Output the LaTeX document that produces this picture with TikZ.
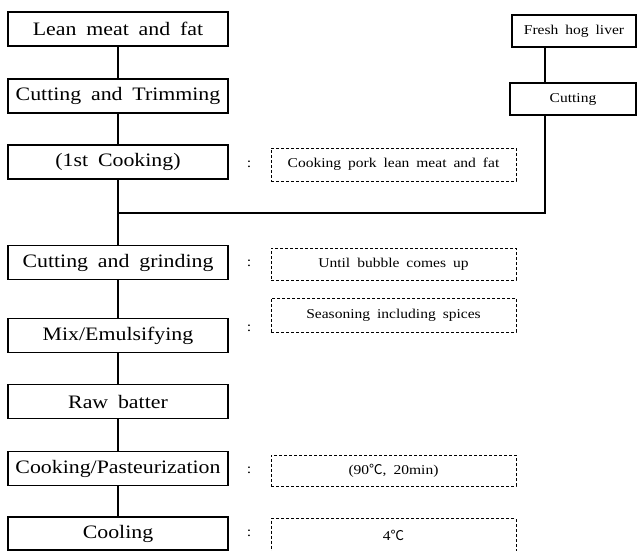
\documentclass[tikz,border=0pt]{standalone}
\usepackage{fontspec}
\setmainfont[FakeStretch=1.15,WordSpace=1.8]{Liberation Serif}
\newfontfamily\cjk{Noto Sans CJK SC}
\newcommand{\degc}{{\cjk ℃}}

\begin{document}
\begin{tikzpicture}[x=1pt,y=-1pt]
	\tikzstyle{stage} = [draw=black, line width=1.6pt, fill=white, minimum width=220pt, minimum height=34pt, inner sep=0pt, font=\fontsize{19}{21}\selectfont];
	\tikzstyle{liverbox} = [draw=black, line width=1.4pt, fill=white, minimum height=32pt, inner sep=0pt, font=\fontsize{13.5}{15}\selectfont];
	\tikzstyle{note} = [draw=black, line width=0.6pt, dash pattern=on 3pt off 2pt, minimum width=245pt, minimum height=32pt, inner sep=0pt, font=\fontsize{13.5}{15}\selectfont];
	\tikzstyle{colon} = [inner sep=0pt, font=\fontsize{14}{16}\selectfont];
	\tikzstyle{link} = [line width=1.6pt];

	\useasboundingbox (0,0) rectangle (638,551);

	% main line
	\node[stage] at (118, 29) (lean) {Lean meat and fat};
	\node[stage] at (118, 96) (trim) {Cutting and Trimming};
	\node[stage] at (118, 162) (cook1) {(1st Cooking)};
	\node[stage] at (118, 262.5) (grind) {Cutting and grinding};
	\node[stage] at (118, 335.5) (mix) {Mix/Emulsifying};
	\node[stage] at (118, 401.5) (raw) {Raw batter};
	\node[stage] at (118, 468.5) (past) {Cooking/Pasteurization};
	\node[stage, minimum height=33pt] at (118, 533.5) (cool) {Cooling};

	% liver
	\node[liverbox, minimum width=124pt] at (574, 31) (liver) {Fresh hog liver};
	\node[liverbox, minimum width=126pt] at (573, 99) (livercut) {Cutting};

	% notes
	\node[colon] at (249, 164) (c1) {:};
		\node[note, minimum height=33pt] at (393.5, 164.5) (n1) {Cooking pork lean meat and fat};
	\node[colon] at (249, 263) (c2) {:};
		\node[note] at (393.5, 264) (n2) {Until bubble comes up};
	\node[colon] at (249, 328) (c3) {:};
		\node[note, minimum height=34pt] at (393.5, 315) (n3) {Seasoning including spices};
	\node[colon] at (249, 470) (c4) {:};
		\node[note, minimum height=31pt] at (393.5, 470.5) (n4) {(90\degc, 20min)};
	\node[colon] at (249, 533) (c5) {:};
		\node[note, minimum height=33pt] at (393.5, 535) (n5) {4\degc};

	\coordinate (join) at (118, 213);
	\coordinate (bend) at (545, 213);

	\draw[link] (lean) -- (trim);
	\draw[link] (trim) -- (cook1);
	\draw[link] (cook1) -- (grind);
	\draw[link] (grind) -- (mix);
	\draw[link] (mix) -- (raw);
	\draw[link] (raw) -- (past);
	\draw[link] (past) -- (cool);

	\draw[link] (liver.south -| bend) -- (livercut.north -| bend);
	\draw[link] (livercut.south -| bend) -- (bend) -- (join);

\end{tikzpicture}
\end{document}
